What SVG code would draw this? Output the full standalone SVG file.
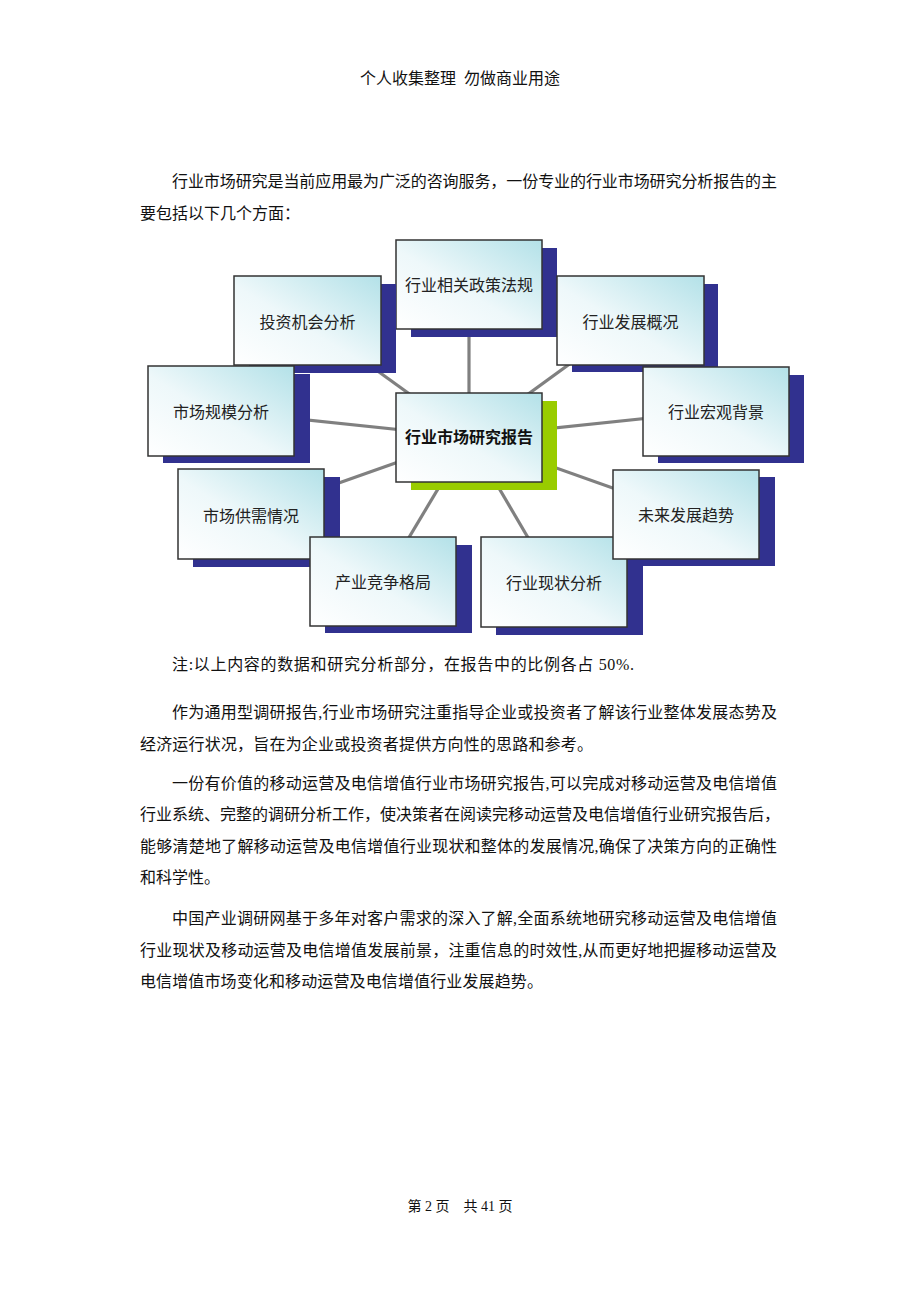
<svg xmlns="http://www.w3.org/2000/svg" width="920" height="1302" viewBox="0 0 920 1302">
<defs>
<linearGradient id="bg" x1="0" y1="1" x2="1" y2="0">
<stop offset="0" stop-color="#ffffff"/>
<stop offset="0.45" stop-color="#eef8fa"/>
<stop offset="1" stop-color="#b3e1e8"/>
</linearGradient>
<style>
.t{font-family:"Liberation Serif","Noto Sans CJK SC",serif;font-size:16px;fill:#111;white-space:pre}
.lbl{font-family:"Noto Sans CJK SC",sans-serif;font-size:16px;fill:#222;text-anchor:middle}
.ctr{font-family:"Noto Sans CJK SC",sans-serif;font-size:16px;font-weight:bold;fill:#111;text-anchor:middle}
.box{fill:url(#bg);stroke:#333;stroke-width:1.5}
.sh{fill:#31318f}
.gs{fill:#99cc00}
.ln{stroke:#808080;stroke-width:3.2;fill:none}
</style>
</defs>
<rect width="920" height="1302" fill="#fff"/>

<g id="text">
<text class="t" x="460" y="84" text-anchor="middle" xml:space="preserve">个人收集整理  勿做商业用途</text>
<text class="t" x="172" y="187" textLength="605" lengthAdjust="spacing">行业市场研究是当前应用最为广泛的咨询服务，一份专业的行业市场研究分析报告的主</text>
<text class="t" x="140" y="219">要包括以下几个方面：</text>
<text class="t" x="172" y="670" textLength="462" lengthAdjust="spacing">注:以上内容的数据和研究分析部分，在报告中的比例各占 50%.</text>
<text class="t" x="172" y="718" textLength="605" lengthAdjust="spacing">作为通用型调研报告,行业市场研究注重指导企业或投资者了解该行业整体发展态势及</text>
<text class="t" x="140" y="750" textLength="453" lengthAdjust="spacing">经济运行状况，旨在为企业或投资者提供方向性的思路和参考。</text>
<text class="t" x="172" y="789" textLength="605" lengthAdjust="spacing">一份有价值的移动运营及电信增值行业市场研究报告,可以完成对移动运营及电信增值</text>
<text class="t" x="140" y="820" textLength="640" lengthAdjust="spacing">行业系统、完整的调研分析工作，使决策者在阅读完移动运营及电信增值行业研究报告后，</text>
<text class="t" x="140" y="852" textLength="637" lengthAdjust="spacing">能够清楚地了解移动运营及电信增值行业现状和整体的发展情况,确保了决策方向的正确性</text>
<text class="t" x="140" y="883">和科学性。</text>
<text class="t" x="172" y="924" textLength="605" lengthAdjust="spacing">中国产业调研网基于多年对客户需求的深入了解,全面系统地研究移动运营及电信增值</text>
<text class="t" x="140" y="956" textLength="637" lengthAdjust="spacing">行业现状及移动运营及电信增值发展前景，注重信息的时效性,从而更好地把握移动运营及</text>
<text class="t" x="140" y="987" textLength="403" lengthAdjust="spacing">电信增值市场变化和移动运营及电信增值行业发展趋势。</text>
<text class="t" x="460" y="1211" text-anchor="middle" style="font-size:14px" xml:space="preserve">第 2 页    共 41 页</text>
</g>

<g id="connectors">
<line class="ln" x1="469" y1="437" x2="469" y2="284"/>
<line class="ln" x1="469" y1="437" x2="307" y2="320"/>
<line class="ln" x1="469" y1="437" x2="221" y2="411"/>
<line class="ln" x1="469" y1="437" x2="251" y2="514"/>
<line class="ln" x1="469" y1="437" x2="383" y2="581"/>
<line class="ln" x1="469" y1="437" x2="554" y2="582"/>
<line class="ln" x1="469" y1="437" x2="686" y2="514"/>
<line class="ln" x1="469" y1="437" x2="716" y2="411"/>
<line class="ln" x1="469" y1="437" x2="630" y2="320"/>
</g>

<g id="center">
<rect class="gs" x="411" y="401" width="146" height="89"/>
<rect class="box" x="396" y="393" width="146" height="89"/>
<text class="ctr" x="469" y="443">行业市场研究报告</text>
</g>

<g id="policy">
<rect class="sh" x="411" y="248" width="146" height="89"/>
<rect class="box" x="396" y="240" width="146" height="89"/>
<text class="lbl" x="469" y="291">行业相关政策法规</text>
</g>

<g id="invest">
<rect class="sh" x="249" y="284" width="147" height="89"/>
<rect class="box" x="234" y="276" width="147" height="89"/>
<text class="lbl" x="307.5" y="328">投资机会分析</text>
</g>

<g id="scale">
<rect class="sh" x="163" y="374" width="147" height="89"/>
<rect class="box" x="148" y="366" width="146" height="90"/>
<text class="lbl" x="221" y="418">市场规模分析</text>
</g>

<g id="supply">
<rect class="sh" x="193" y="477" width="147" height="90"/>
<rect class="box" x="178" y="469" width="146" height="90"/>
<text class="lbl" x="251" y="522">市场供需情况</text>
</g>

<g id="compete">
<rect class="sh" x="325" y="545" width="147" height="88"/>
<rect class="box" x="310" y="537" width="146" height="89"/>
<text class="lbl" x="383" y="588">产业竞争格局</text>
</g>

<g id="overview">
<rect class="sh" x="572" y="284" width="146" height="88"/>
<rect class="box" x="557" y="276" width="147" height="89"/>
<text class="lbl" x="630.5" y="328">行业发展概况</text>
</g>

<g id="macro">
<rect class="sh" x="658" y="375" width="146" height="88"/>
<rect class="box" x="643" y="367" width="146" height="89"/>
<text class="lbl" x="716" y="418">行业宏观背景</text>
</g>

<g id="status">
<rect class="sh" x="496" y="545" width="147" height="90"/>
<rect class="box" x="481" y="537" width="146" height="90"/>
<text class="lbl" x="554" y="589">行业现状分析</text>
</g>

<g id="future">
<rect class="sh" x="628" y="477" width="147" height="89"/>
<rect class="box" x="613" y="470" width="146" height="89"/>
<text class="lbl" x="686" y="521">未来发展趋势</text>
</g>
</svg>
